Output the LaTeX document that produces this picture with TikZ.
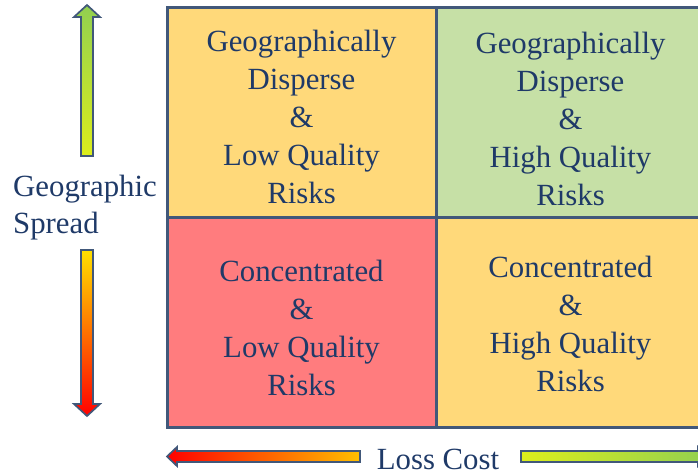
\documentclass[tikz,border=0pt]{standalone}
\usepackage{fontspec}
\setmainfont{Liberation Serif}
\definecolor{edgeblue}{HTML}{41587A}
\definecolor{textblue}{HTML}{1F3A68}
\definecolor{cellyellow}{HTML}{FFD97A}
\definecolor{cellgreen}{HTML}{C6E0A6}
\definecolor{cellred}{HTML}{FF7C7E}
\definecolor{arrgreen}{HTML}{92D050}
\definecolor{arrlime}{HTML}{DCEE1C}
\definecolor{arryellow}{HTML}{FFE000}
\definecolor{arramber}{HTML}{FFC000}
\definecolor{arrorange}{HTML}{FF8000}
\definecolor{arrred}{HTML}{FF0000}
\begin{document}
\begin{tikzpicture}[x=1pt,y=-1pt,
    cell/.style={draw=edgeblue,line width=3pt,minimum width=269pt,minimum height=210pt,inner sep=0pt},
    celltext/.style={inner sep=0pt,align=center,text=textblue,font=\fontsize{30.8}{38}\selectfont},
    lbl/.style={inner sep=0pt,text=textblue,font=\fontsize{30.8}{37}\selectfont},
    fatarrow/.style={draw=edgeblue,line width=1.7pt,line join=miter}]
    \useasboundingbox (0,0) rectangle (698,475);
    % quadrants
    \node[cell,fill=cellyellow] (tl) at (301.5,112) {};
    \node[cell,fill=cellgreen] (tr) at (570.5,112) {};
    \node[cell,fill=cellred] (bl) at (301.5,322) {};
    \node[cell,fill=cellyellow] (br) at (570.5,322) {};
    \node[celltext] (tltext) at ([yshift=-5pt]tl.center) {Geographically\\Disperse\\\&\\Low Quality\\Risks};
    \node[celltext] (trtext) at ([yshift=-7pt]tr.center) {Geographically\\Disperse\\\&\\High Quality\\Risks};
    \node[celltext] (bltext) at ([yshift=-6pt]bl.center) {Concentrated\\\&\\Low Quality\\Risks};
    \node[celltext] (brtext) at ([yshift=-2pt]br.center) {Concentrated\\\&\\High Quality\\Risks};
    % axis labels
    \node[lbl,align=left,anchor=west] (spread) at (13,208) {Geographic\\Spread};
    \node[lbl,anchor=base] (loss) at (438,469) {Loss Cost};
    % vertical arrows
    \shade[fatarrow,top color=arrgreen,bottom color=arrlime]
      (81,156)--(81,17)--(74,17)--(87,5)--(100,17)--(93,17)--(93,156)--cycle;
    \shade[fatarrow,top color=arryellow,middle color=arrorange,bottom color=arrred]
      (81,250)--(81,404)--(74,404)--(87,416)--(100,404)--(93,404)--(93,250)--cycle;
    % horizontal arrows
    \shade[fatarrow,left color=arrred,right color=arramber]
      (360,451)--(177,451)--(177,447)--(167,456.5)--(177,466)--(177,462)--(360,462)--cycle;
    \shade[fatarrow,left color=arrlime,right color=arrgreen]
      (521,451)--(698,451)--(698,447)--(708,456.5)--(698,466)--(698,462)--(521,462)--cycle;
\end{tikzpicture}
\end{document}
